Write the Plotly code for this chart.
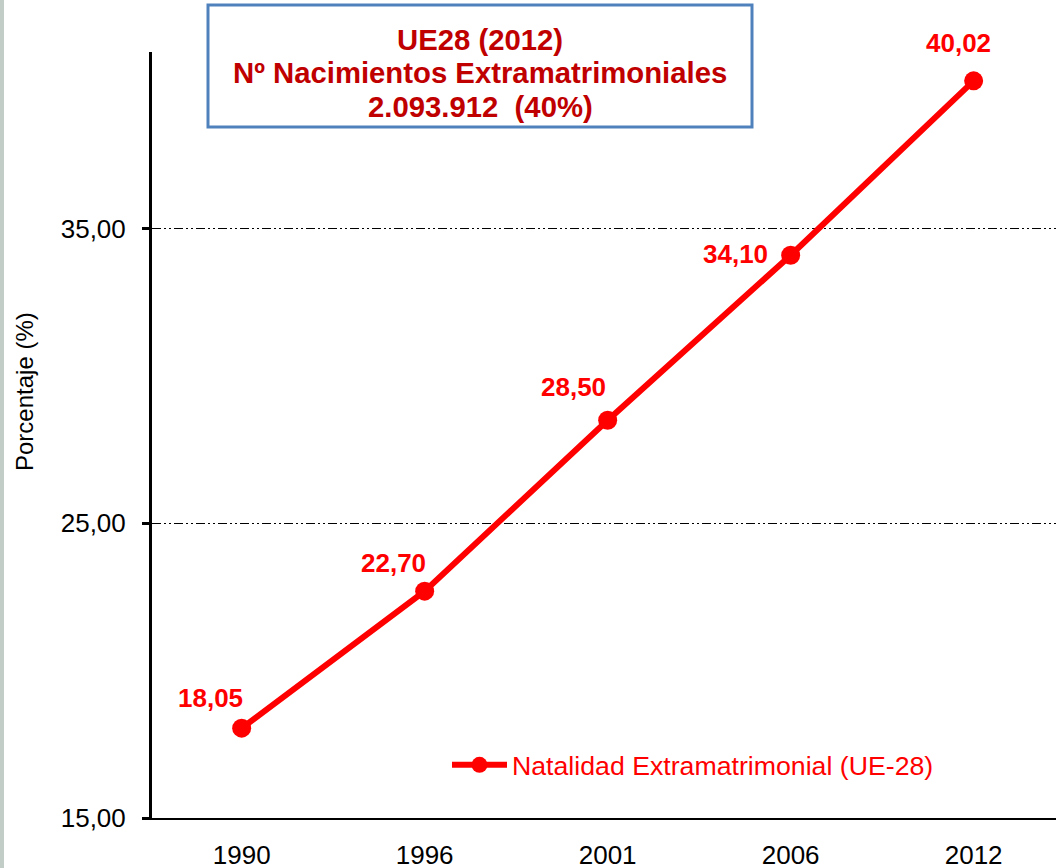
import plotly.graph_objects as go

# data
years = ["1990", "1996", "2001", "2006", "2012"]
pct = [18.05, 22.70, 28.50, 34.10, 40.02]
pct_labels = ["18,05", "22,70", "28,50", "34,10", "40,02"]
y_ticks = [15, 25, 35]
y_tick_text = ["15,00", "25,00", "35,00"]
series_name = "Natalidad Extramatrimonial (UE-28)"
box_lines = ["UE28 (2012)", "Nº Nacimientos Extramatrimoniales", "2.093.912  (40%)"]
y_title = "Porcentaje (%)"

W, H = 1056, 868
ML, MT, MB = 152, 52, 50
PW, PH = W - ML, H - MT - MB

def px(x):  # pixel -> paper x
    return (x - ML) / PW

def py(y):  # pixel -> paper y
    return (H - MB - y) / PH

FONT = "Arial, Liberation Sans, sans-serif"
RED = "#FF0000"

fig = go.Figure()
fig.add_trace(go.Scatter(
    x=years, y=pct, mode="lines+markers", name=series_name,
    line=dict(color=RED, width=6),
    marker=dict(color=RED, size=19),
    showlegend=True,
))

# value labels (offsets in px); category axis -> use index positions
label_shift = [(-31, 30), (-31, 28), (-34, 33), (-55, 1), (-15, 38)]
annotations = []
for i, (v, t, (dx, dy)) in enumerate(zip(pct, pct_labels, label_shift)):
    annotations.append(dict(x=i, y=v, text=t, showarrow=False, xshift=dx, yshift=dy,
                            font=dict(family=FONT, size=26, color=RED, weight="bold")))

# title box
box_y = [40, 73, 106]
for t, yy in zip(box_lines, box_y):
    annotations.append(dict(x=px(480), y=py(yy), xref="paper", yref="paper", text=t,
                            showarrow=False, xanchor="center", yanchor="middle",
                            font=dict(family=FONT, size=29.3, color="#C00000", weight="bold")))

annotations.append(dict(x=px(24), y=py(392), xref="paper", yref="paper", text=y_title,
                        showarrow=False, textangle=-90, xanchor="center", yanchor="middle",
                        font=dict(family=FONT, size=24, color="black")))

shapes = [
    dict(type="rect", xref="paper", yref="paper", x0=px(208), x1=px(752), y0=py(127), y1=py(5),
         line=dict(color="#4F81BD", width=3), fillcolor="white", layer="above"),
    dict(type="rect", xref="paper", yref="paper", x0=px(0), x1=px(4), y0=py(868), y1=py(0),
         line=dict(width=0), fillcolor="#C3CDC8", layer="below"),
]

fig.update_layout(
    width=W, height=H,
    margin=dict(l=ML, r=0, t=MT, b=MB),
    paper_bgcolor="white", plot_bgcolor="white",
    font=dict(family=FONT, color="black"),
    annotations=annotations,
    shapes=shapes,
    legend=dict(x=px(447), y=py(765), xanchor="left", yanchor="middle",
                bgcolor="rgba(0,0,0,0)", itemwidth=55,
                font=dict(family=FONT, size=26.7, color=RED)),
)

fig.update_xaxes(
    type="category", range=[-0.49, 4.45],
    showgrid=False, zeroline=False,
    showline=True, linecolor="black", linewidth=2,
    ticks="", ticklabelstandoff=13, automargin=False,
    tickfont=dict(family=FONT, size=26, color="black"),
)
fig.update_yaxes(
    range=[15, 41], tickvals=y_ticks, ticktext=y_tick_text,
    showgrid=True, gridcolor="black", gridwidth=1, griddash="9px,3px,2px,3px,2px,3px",
    zeroline=False,
    showline=True, linecolor="black", linewidth=3,
    ticks="outside", ticklen=7, tickwidth=3, tickcolor="black", ticklabelstandoff=11,
    automargin=False,
    tickfont=dict(family=FONT, size=26, color="black"),
)

# page body has a default 8px margin; drop it so the figure sits at 0,0
fig.write_html("out.html", config={"displayModeBar": False},
               post_script="document.body.style.margin='0';")
